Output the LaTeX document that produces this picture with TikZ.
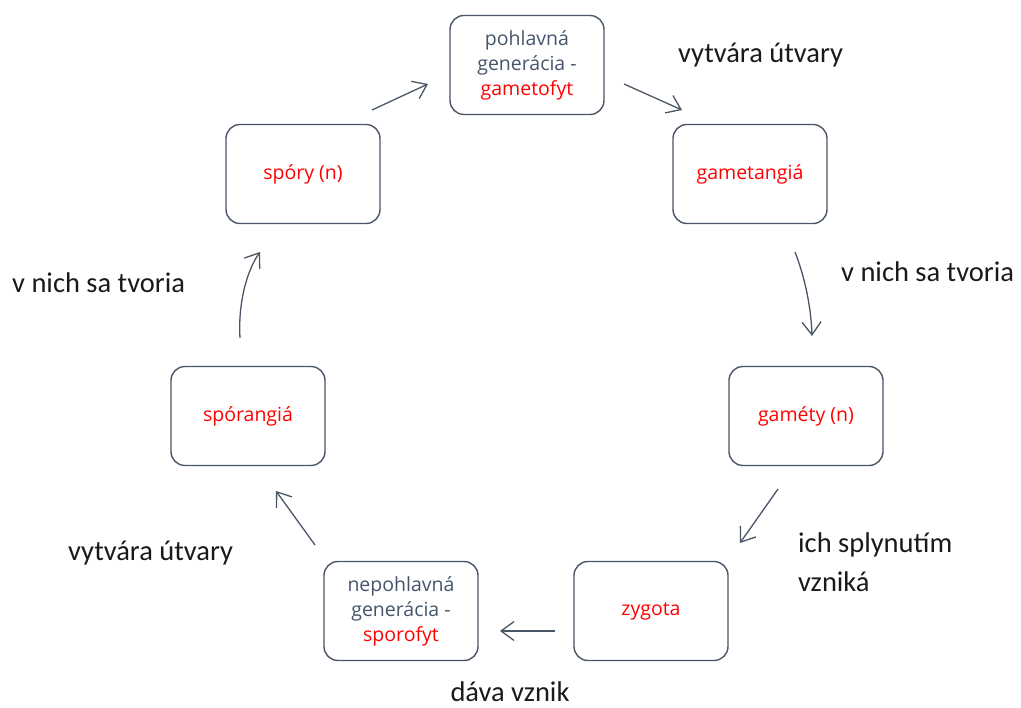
\documentclass[tikz,border=0pt]{standalone}
\usepackage{fontspec}
\setmainfont{Open Sans}
\newfontfamily\lblfont{Carlito}
\usetikzlibrary{arrows.meta}
\definecolor{boxc}{HTML}{4A5568}
\definecolor{txtc}{HTML}{44546A}
\definecolor{redc}{HTML}{FF0000}
\definecolor{lblc}{HTML}{1A1A1A}
\tikzset{
  stagebox/.style={draw=boxc, line width=1.4pt, rounded corners=14pt, minimum width=154pt, minimum height=99pt, align=center, inner sep=2pt, font=\fontsize{19.5}{25}\selectfont, text=txtc},
  conn/.style={draw=boxc, line width=1.3pt, -{Straight Barb[length=13pt,width=19pt,line width=1.3pt]}},
  lbl/.style={font=\lblfont\fontsize{28.5}{37}\selectfont, text=lblc, align=left, inner sep=0pt}
}
\begin{document}
\begin{tikzpicture}[x=1pt,y=-1pt]
\useasboundingbox (0,0) rectangle (1021,708);
\node[stagebox] (gam) at (527,65) {pohlavná\\generácia -\\\textcolor{redc}{gametofyt}};
\node[stagebox] (gtg) at (750,174) {\textcolor{redc}{gametangiá}};
\node[stagebox] (gmt) at (806,416) {\textcolor{redc}{gaméty (n)}};
\node[stagebox] (zyg) at (651,611) {\textcolor{redc}{zygota}};
\node[stagebox] (spf) at (401,611) {nepohlavná\\generácia -\\\textcolor{redc}{sporofyt}};
\node[stagebox] (spg) at (248,416) {\textcolor{redc}{spórangiá}};
\node[stagebox] (spr) at (303,174) {\textcolor{redc}{spóry (n)}};

\coordinate (a1s) at (372,110); \coordinate (a1e) at (428,84);
\coordinate (a2s) at (624,84);  \coordinate (a2e) at (682,110);
\coordinate (a3s) at (795,252); \coordinate (a3e) at (812,336);
\coordinate (a4s) at (778,489); \coordinate (a4e) at (740,543);
\coordinate (a5s) at (555,631); \coordinate (a5e) at (500,631);
\coordinate (a6s) at (315,545); \coordinate (a6e) at (276,491);
\coordinate (a7s) at (240,338); \coordinate (a7e) at (260,252);

\draw[conn] (a1s) -- (a1e);
\draw[conn] (a2s) -- (a2e);
\draw[conn] (a3s) .. controls (804,275) and (811,305) .. (a3e);
\draw[conn] (a4s) -- (a4e);
\draw[conn] (a5s) -- (a5e);
\draw[conn] (a6s) -- (a6e);
\draw[conn] (a7s) .. controls (238,305) and (246,272) .. (a7e);

\node[lbl, anchor=west] (l1) at (678,55) {vytvára útvary};
\node[lbl, anchor=west] (l2) at (841,272) {v nich sa tvoria};
\node[lbl, anchor=west] (l3) at (798,545) {ich splynutím};
\node[lbl, anchor=west] (l3b) at (798,582) {vzniká};
\node[lbl] (l4) at (510,692) {dáva vznik};
\node[lbl, anchor=west] (l5) at (68,553) {vytvára útvary};
\node[lbl, anchor=west] (l6) at (12,283) {v nich sa tvoria};
\end{tikzpicture}
\end{document}
